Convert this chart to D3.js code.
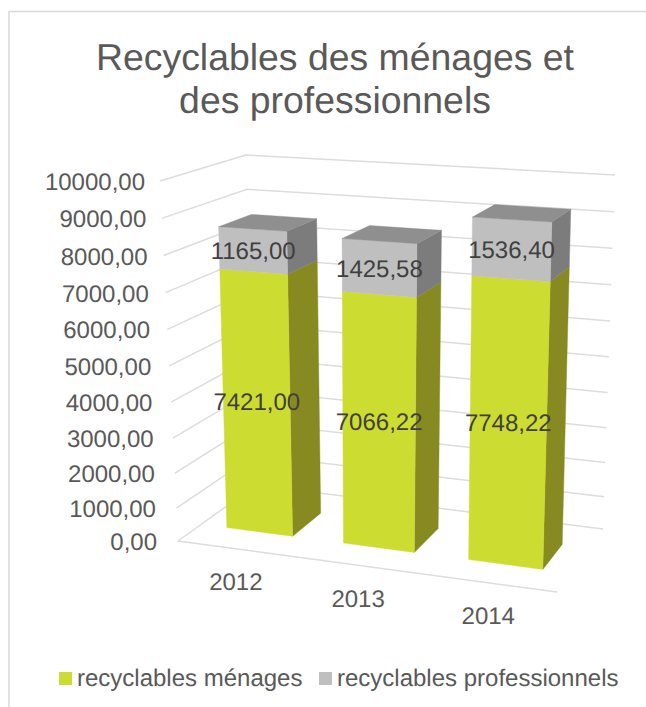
<!DOCTYPE html>
<html><head><meta charset="utf-8">
<script src="https://cdn.jsdelivr.net/npm/d3@7"></script>
<style>html,body{margin:0;padding:0;background:#fff}svg{display:block}text{font-family:"Liberation Sans",Arial,sans-serif;text-rendering:geometricPrecision}</style>
</head><body><svg id="c" width="646" height="707"></svg>
<script>
const titleLines = ["Recyclables des ménages et", "des professionnels"];
const years = ["2012", "2013", "2014"];
const menages = [7421.00, 7066.22, 7748.22];
const professionnels = [1165.00, 1425.58, 1536.40];
const ticks = [0,1000,2000,3000,4000,5000,6000,7000,8000,9000,10000];
const seriesNames = ["recyclables ménages", "recyclables professionnels"];

const cGreen="#CDDC31", cGreenSide="#868A20", cGrey="#BFBFBF", cGreySide="#7C7C7C", cGreyTop="#8F8F8F";
const cGrid="#DDDDDD", cAxisText="#595959", cLabel="#404040";

const svg = d3.select("#c");
const fmt = d3.formatLocale({decimal:",",thousands:"",grouping:[3],currency:["",""]}).format(".2f");

// box corners of the 3D plot on screen: floor and ceiling
const floor = {fl:[178,541], bl:[256,485], br:[603,529], fr:[557,592]};
const ceil  = {fl:[160,181], bl:[246,155], br:[615,175], fr:[571,205]};
const depthFront = 0.3, depthBack = 0.7;

const xBand = d3.scaleBand().domain(years).range([0,1]).paddingInner(0.433).paddingOuter(0.2165);
// perspective warp of the horizontal position, at floor and ceiling level
const uKnots = [0,.0723,.2612,.404,.593,.7357,.9247,1];
const uFloor = d3.scaleLinear().domain(uKnots).range([0,.069,.247,.383,.575,.72,.921,1]);
const uCeil  = d3.scaleLinear().domain(uKnots).range([0,.079,.251,.390,.580,.717,.917,1]);
const yVal = d3.scalePow().exponent(1.04).domain([0,10000]).range([0,1]);

const lerp=(a,b,t)=>a+(b-a)*t;
const bil=(q,u,d)=>{
  const lx=lerp(q.fl[0],q.bl[0],d), ly=lerp(q.fl[1],q.bl[1],d);
  const rx=lerp(q.fr[0],q.br[0],d), ry=lerp(q.fr[1],q.br[1],d);
  return [lerp(lx,rx,u),lerp(ly,ry,u)];
};
function project(u,value,d){
  const a=bil(floor,uFloor(u),d), b=bil(ceil,uCeil(u),d), v=yVal(value);
  return [lerp(a[0],b[0],v),lerp(a[1],b[1],v)];
}
const line=d3.line();

// frame
svg.append("path").attr("d","M9,707V11.5H646").attr("fill","none").attr("stroke","#D9D9D9").attr("stroke-width",1.5);

// title
svg.append("g").selectAll("text").data(titleLines).join("text")
  .attr("x",335).attr("y",(d,i)=>70+i*43).attr("text-anchor","middle")
  .attr("font-size",37.4).attr("fill",cAxisText).text(d=>d);

// gridlines
svg.append("g").selectAll("path").data(ticks).join("path")
  .attr("d",t=>line([project(0,t,0),project(0,t,1),project(1,t,1)]))
  .attr("fill","none").attr("stroke",cGrid).attr("stroke-width",1.5);
svg.append("path").attr("d",line([project(0,0,0),project(1,0,0)]))
  .attr("fill","none").attr("stroke",cGrid).attr("stroke-width",1.5);

// tick labels
const tickShift=d3.scaleLinear().domain([0,10000]).range([21,15]);
svg.append("g").selectAll("text").data(ticks).join("text")
  .attr("x",t=>project(0,t,0)[0]-tickShift(t)).attr("y",t=>project(0,t,0)[1]+9)
  .attr("text-anchor","end").attr("font-size",24).attr("fill",cAxisText).text(t=>fmt(t));

// bars
const stacks = years.map((y,i)=>({year:y,segs:[
  {v0:0,v1:menages[i],val:menages[i],front:cGreen,side:cGreenSide,dy:5},
  {v0:menages[i],v1:menages[i]+professionnels[i],val:professionnels[i],front:cGrey,side:cGreySide,dy:9}
]}));
const gBars=svg.append("g");
stacks.forEach(s=>{
  const u0=xBand(s.year), u1=u0+xBand.bandwidth();
  s.segs.forEach(g=>{
    gBars.append("path").attr("fill",g.side).attr("stroke",g.side).attr("stroke-width",.4)
      .attr("d",line([project(u1,g.v0,depthFront),project(u1,g.v0,depthBack),project(u1,g.v1,depthBack),project(u1,g.v1,depthFront)])+"Z");
    gBars.append("path").attr("fill",g.front).attr("stroke",g.front).attr("stroke-width",.4)
      .attr("d",line([project(u0,g.v0,depthFront),project(u1,g.v0,depthFront),project(u1,g.v1,depthFront),project(u0,g.v1,depthFront)])+"Z");
  });
  const top=s.segs[1].v1;
  gBars.append("path").attr("fill",cGreyTop).attr("stroke",cGreyTop).attr("stroke-width",.4)
    .attr("d",line([project(u0,top,depthFront),project(u1,top,depthFront),project(u1,top,depthBack),project(u0,top,depthBack)])+"Z");
});

// data labels
const gLab=svg.append("g");
stacks.forEach(s=>{
  const um=xBand(s.year)+xBand.bandwidth()/2;
  s.segs.forEach(g=>{
    const p=project(um,(g.v0+g.v1)/2,depthFront);
    gLab.append("text").attr("x",p[0]).attr("y",p[1]+g.dy).attr("text-anchor","middle")
      .attr("font-size",24).attr("fill",cLabel).text(fmt(g.val));
  });
});

// category labels
svg.append("g").selectAll("text").data(years).join("text")
  .attr("x",y=>project(xBand(y)+xBand.bandwidth()/2,0,0)[0]-2)
  .attr("y",y=>project(xBand(y)+xBand.bandwidth()/2,0,0)[1]+41)
  .attr("text-anchor","middle").attr("font-size",24).attr("fill",cAxisText).text(y=>y);

// legend
const legendX=[59,319], legendColors=[cGreen,cGrey];
const gLeg=svg.append("g");
seriesNames.forEach((n,i)=>{
  gLeg.append("rect").attr("x",legendX[i]).attr("y",672).attr("width",13).attr("height",13).attr("fill",legendColors[i]);
  gLeg.append("text").attr("x",legendX[i]+18).attr("y",686).attr("font-size",24).attr("fill",cAxisText).text(n);
});
</script></body></html>
